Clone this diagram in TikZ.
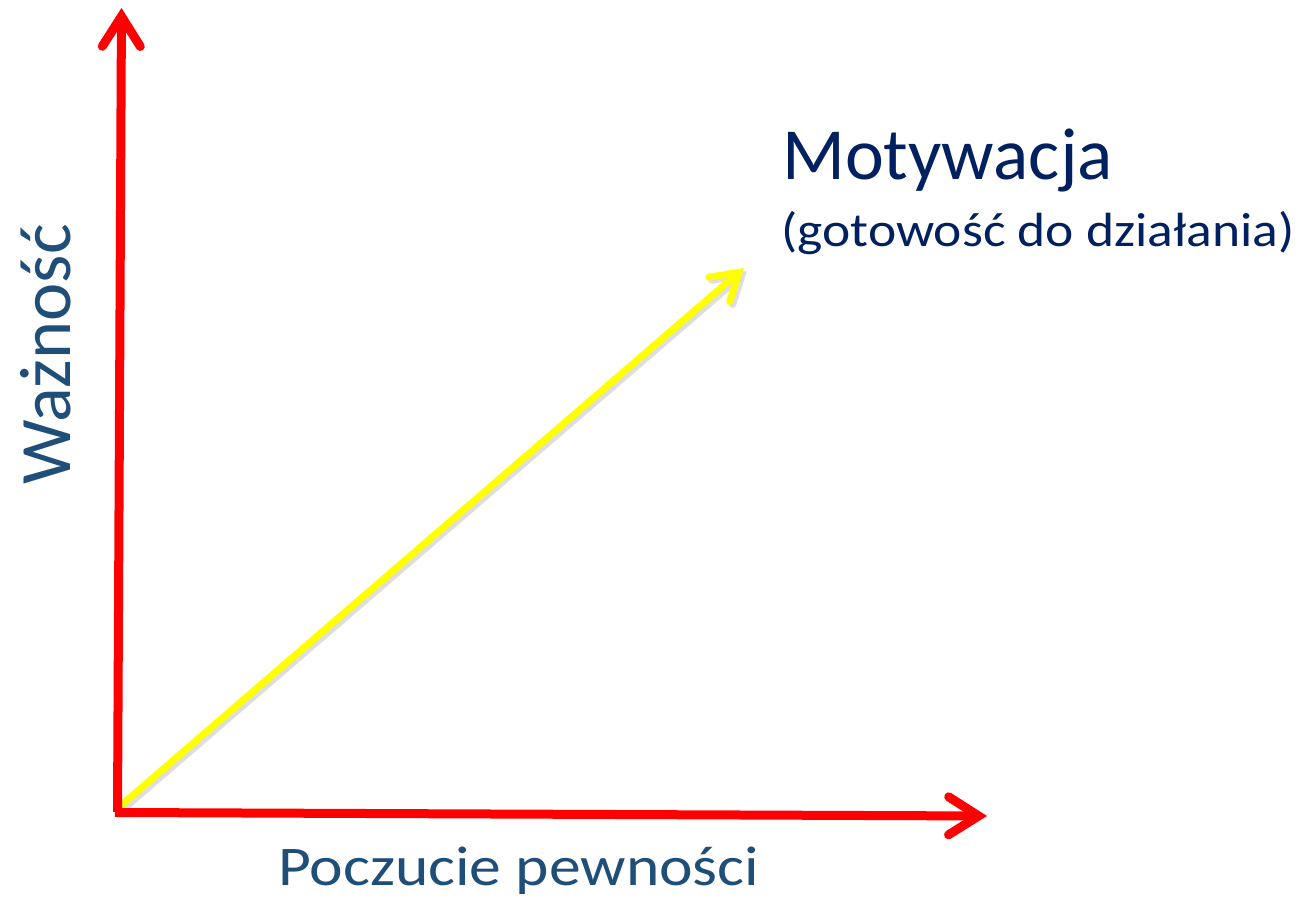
\documentclass[tikz,border=0pt]{standalone}
\usepackage{fontspec}
\usepackage{graphicx}
\setmainfont{Carlito}
\usetikzlibrary{arrows.meta}
\definecolor{axislbl}{RGB}{31,78,121}
\definecolor{navy}{RGB}{0,32,96}
\definecolor{axred}{RGB}{255,0,0}
\definecolor{ylw}{RGB}{255,255,0}
\tikzset{
  axis/.style={draw=axred, line width=9pt, line cap=butt,
    -{Straight Barb[length=30pt, width=38pt, line cap=round, line join=miter]}},
  vec/.style={draw=ylw, line width=7pt,
    -{Straight Barb[length=26pt, width=32pt, line cap=round, line join=miter]}},
  shadowvec/.style={draw=black!25, opacity=0.5, line width=7pt,
    -{Straight Barb[length=26pt, width=32pt, line cap=round, line join=miter]}},
  lbl/.style={text=axislbl, inner sep=0pt},
}
\begin{document}
\begin{tikzpicture}[x=1pt,y=1pt]
\useasboundingbox (0,0) rectangle (1299,901);
\fill[white] (0,0) rectangle (1299,901);
\coordinate (O) at (117.5,89);
\coordinate (Ob) at (115,88.5);
\coordinate (Ytip) at (121.5,893);
\coordinate (Xtip) at (987,85);
\coordinate (Vtip) at (744,633);
\coordinate (Oy) at (118,93);
\coordinate (Oys) at (121,90);
\coordinate (Vtips) at (747,630);
\draw[shadowvec] (Oys) -- (Vtips);
\draw[vec] (Oy) -- (Vtip);
\draw[axis] (O) -- (Ytip);
\draw[axis] (Ob) -- (Xtip);
\node[lbl, anchor=base west, font=\fontsize{56}{62}\selectfont] (xl) at (278,15) {\scalebox{1.135}[1]{Poczucie pewności}};
\node[lbl, anchor=base west, rotate=90, font=\fontsize{72.5}{78}\selectfont] (yl) at (70,416) {Ważność};
\node[inner sep=0pt, anchor=base west, text=navy, font=\fontsize{73.5}{80}\selectfont] (mt) at (782,721) {Motywacja};
\node[inner sep=0pt, anchor=base west, text=navy, font=\fontsize{48}{54}\selectfont] (mt2) at (781,654) {\scalebox{1.115}[1]{(gotowość do działania)}};
\end{tikzpicture}
\end{document}
